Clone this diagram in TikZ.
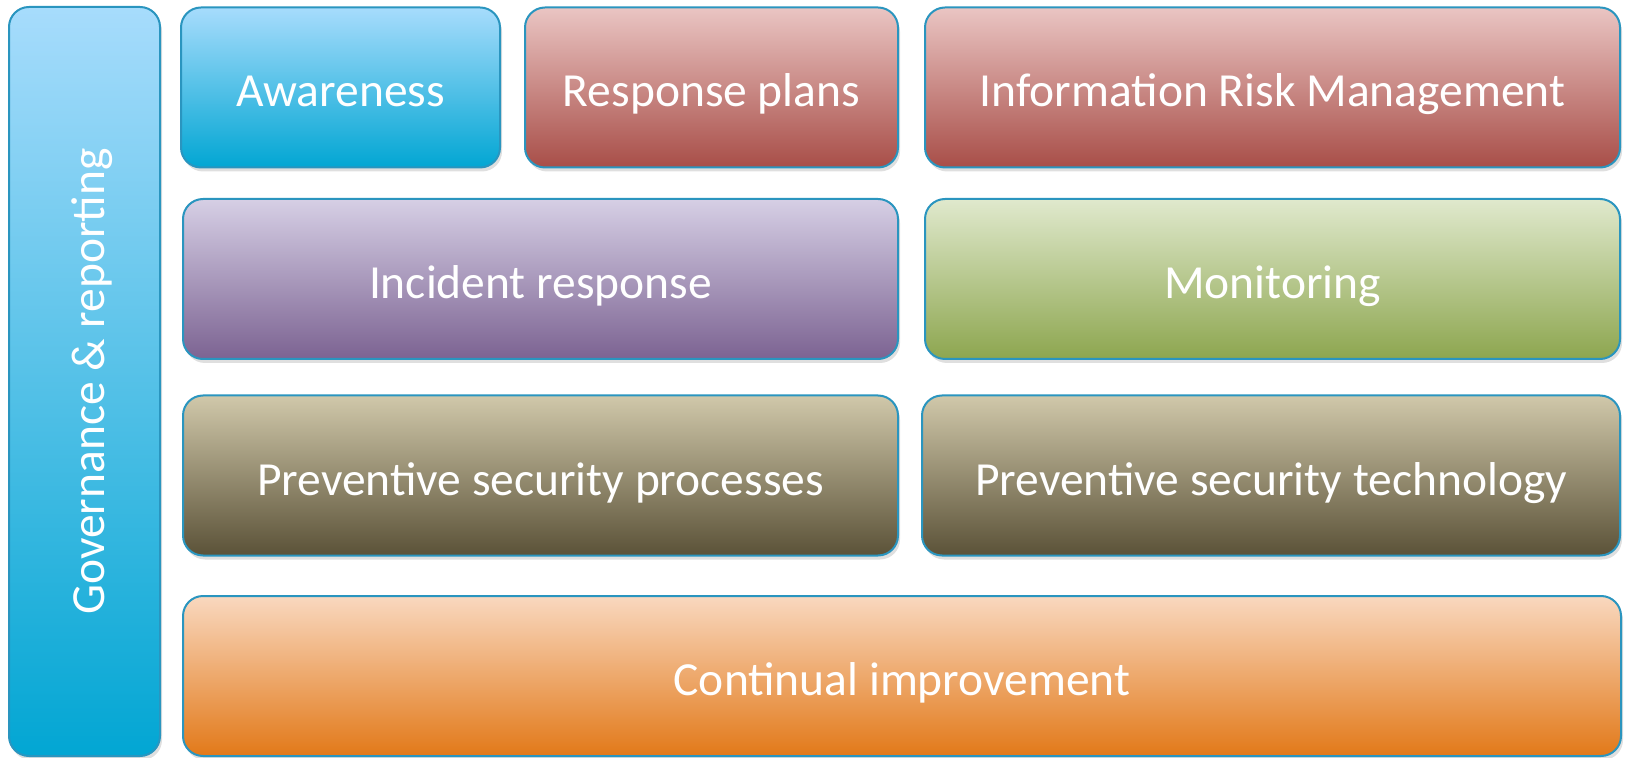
\documentclass[tikz,border=0pt]{standalone}
\usepackage{fontspec}
\setmainfont{Carlito}
\usetikzlibrary{shadows}
\definecolor{edge}{HTML}{2A95BF}
\definecolor{blueT}{HTML}{A7DCFC}
\definecolor{blueB}{HTML}{02A6D3}
\definecolor{redT}{HTML}{EAC5C3}
\definecolor{redB}{HTML}{A84E48}
\definecolor{lilacT}{HTML}{D6CFE5}
\definecolor{lilacB}{HTML}{7C6392}
\definecolor{greenT}{HTML}{E0E9CD}
\definecolor{greenB}{HTML}{8DA64F}
\definecolor{oliveT}{HTML}{D0C8AA}
\definecolor{oliveB}{HTML}{5B5238}
\definecolor{orangeT}{HTML}{F9D8BF}
\definecolor{orangeB}{HTML}{E27919}
\begin{document}
\begin{tikzpicture}[x=0.5pt,y=-0.5pt,
    label text/.style={text=white, font=\fontsize{23.75}{28}\selectfont,
      text height=19.5pt, text depth=0pt},
    block/.style={label text, draw=edge, line width=1pt, rounded corners=10pt,
      inner sep=0pt, outer sep=0pt, minimum height=80pt,
      drop shadow={shadow xshift=1pt, shadow yshift=-2pt, opacity=0.25}},
    tint/.style n args={2}{top color=#1, bottom color=#2}]
  \useasboundingbox (0,0) rectangle (1625,758);
  % left column
  \node[block, tint={blueT}{blueB}, minimum width=75.5pt, minimum height=374.5pt]
    (gov) at (84.5,381.5) {};
  \node[label text, rotate=90, inner sep=0pt] (govtext) at (gov) {Governance \& reporting};
  % top row
  \node[block, tint={blueT}{blueB}, minimum width=159.5pt] (aware) at (340.5,87.5) {Awareness};
  \node[block, tint={redT}{redB}, minimum width=186.5pt] (plans) at (711.5,87.5) {Response plans};
  \node[block, tint={redT}{redB}, minimum width=347.5pt] (irm) at (1272.5,87.5) {Information Risk Management};
  % second row
  \node[block, tint={lilacT}{lilacB}, minimum width=357.5pt] (incident) at (540.5,279) {Incident response};
  \node[block, tint={greenT}{greenB}, minimum width=347.5pt] (monitor) at (1272.5,279) {Monitoring};
  % third row
  \node[block, tint={oliveT}{oliveB}, minimum width=357.5pt] (proc) at (540.5,475.5) {Preventive security processes};
  \node[block, tint={oliveT}{oliveB}, minimum width=349pt] (tech) at (1271,475.5) {Preventive security technology};
  % bottom row
  \node[block, tint={orangeT}{orangeB}, minimum width=719pt] (improve) at (902,676) {Continual improvement};
\end{tikzpicture}
\end{document}
